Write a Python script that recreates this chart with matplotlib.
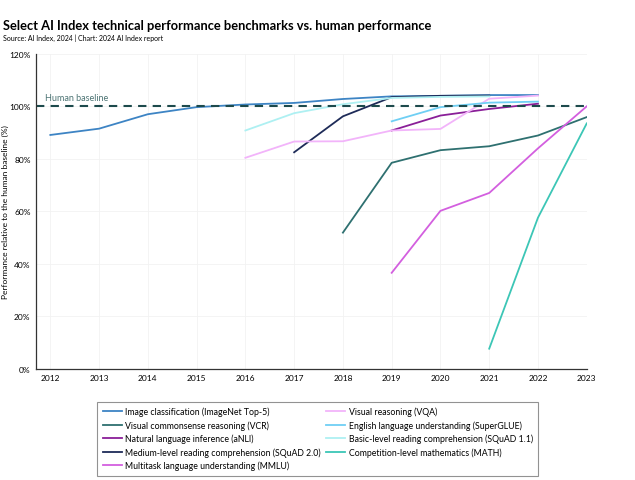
import numpy as np
import matplotlib
matplotlib.use("Agg")
import matplotlib.pyplot as plt

plt.rcParams['font.family'] = ['Lato', 'DejaVu Sans']

# values (percent of human baseline)
img_years = [2012, 2013, 2014, 2015, 2016, 2017, 2018, 2019, 2020, 2021, 2022]
img_vals = [89.1, 91.5, 97.0, 99.7, 100.7, 101.3, 102.8, 103.8, 104.0, 104.3, 104.3]
vcr_years = [2018, 2019, 2020, 2021, 2022, 2023]
vcr_vals = [51.9, 78.5, 83.3, 84.8, 88.9, 95.9]
anli_years = [2019, 2020, 2021, 2022]
anli_vals = [90.8, 96.5, 99.0, 101.0]
squad2_years = [2017, 2018, 2019, 2020, 2021]
squad2_vals = [82.5, 96.2, 103.5, 104.0, 104.1]
mmlu_years = [2019, 2020, 2021, 2022, 2023]
mmlu_vals = [36.6, 60.2, 67.0, 84.0, 100.0]
vqa_years = [2016, 2017, 2018, 2019, 2020, 2021, 2022]
vqa_vals = [80.4, 86.6, 86.7, 90.8, 91.4, 102.9, 104.1]
sglue_years = [2019, 2020, 2021, 2022]
sglue_vals = [94.3, 99.7, 101.4, 101.8]
squad1_years = [2016, 2017, 2018, 2019, 2020, 2021]
squad1_vals = [90.8, 97.4, 100.8, 103.2, 103.6, 103.8]
math_years = [2021, 2022, 2023]
math_vals = [7.7, 57.6, 93.5]

series = [
    ("Image classification (ImageNet Top-5)", img_years, img_vals, "#3d84c4"),
    ("Visual commonsense reasoning (VCR)", vcr_years, vcr_vals, "#2e7070"),
    ("Natural language inference (aNLI)", anli_years, anli_vals, "#8a1f98"),
    ("Medium-level reading comprehension (SQuAD 2.0)", squad2_years, squad2_vals, "#1e2b58"),
    ("Multitask language understanding (MMLU)", mmlu_years, mmlu_vals, "#d35fdf"),
    ("Visual reasoning (VQA)", vqa_years, vqa_vals, "#f2b4fa"),
    ("English language understanding (SuperGLUE)", sglue_years, sglue_vals, "#6fcff4"),
    ("Basic-level reading comprehension (SQuAD 1.1)", squad1_years, squad1_vals, "#aef0f2"),
    ("Competition-level mathematics (MATH)", math_years, math_vals, "#3cc6b6"),
]

fig = plt.figure(figsize=(6.35, 4.81), dpi=100)
ax = fig.add_axes([0.057, 0.231, 0.867, 0.655])

for label, xs, ys, c in series:
    ax.plot(xs, ys, color=c, lw=1.3, label=label)

ax.axhline(100, color="#1d4a4c", lw=1.5, ls=(0, (4, 3)))
ax.text(2011.9, 101.5, "Human baseline", fontsize=6.5, color="#4d7474", va="bottom")

ax.set_xlim(2011.71, 2023)
ax.set_ylim(0, 120)
ax.set_xticks(range(2012, 2024))
ax.set_yticks(range(0, 121, 20))
ax.set_yticklabels([f"{v}%" for v in range(0, 121, 20)])
ax.tick_params(length=0, labelsize=6, pad=4)
ax.grid(True, color="#f2f2f2", lw=0.6)
ax.set_axisbelow(True)
for s in ["top", "right"]:
    ax.spines[s].set_visible(False)
for s in ["left", "bottom"]:
    ax.spines[s].set_color("#333333")
    ax.spines[s].set_linewidth(0.9)
ax.set_ylabel("Performance relative to the human baseline (%)", fontsize=6)
ax.yaxis.set_label_coords(-0.05, 0.5)

fig.text(0.004, 0.937, "Select AI Index technical performance benchmarks vs. human performance",
         fontsize=9.3, fontweight="bold")
fig.text(0.004, 0.914, "Source: AI Index, 2024 | Chart: 2024 AI Index report", fontsize=5)

leg = ax.legend(loc="upper left", bbox_to_anchor=(0.103, -0.09), ncol=2, fontsize=6.3,
                frameon=True, fancybox=False, edgecolor="#777777", handlelength=2.2,
                handletextpad=0.4, columnspacing=0.6, labelspacing=0.45, borderpad=0.6)
leg.get_frame().set_linewidth(0.8)

fig.savefig("out.png", dpi=100)
